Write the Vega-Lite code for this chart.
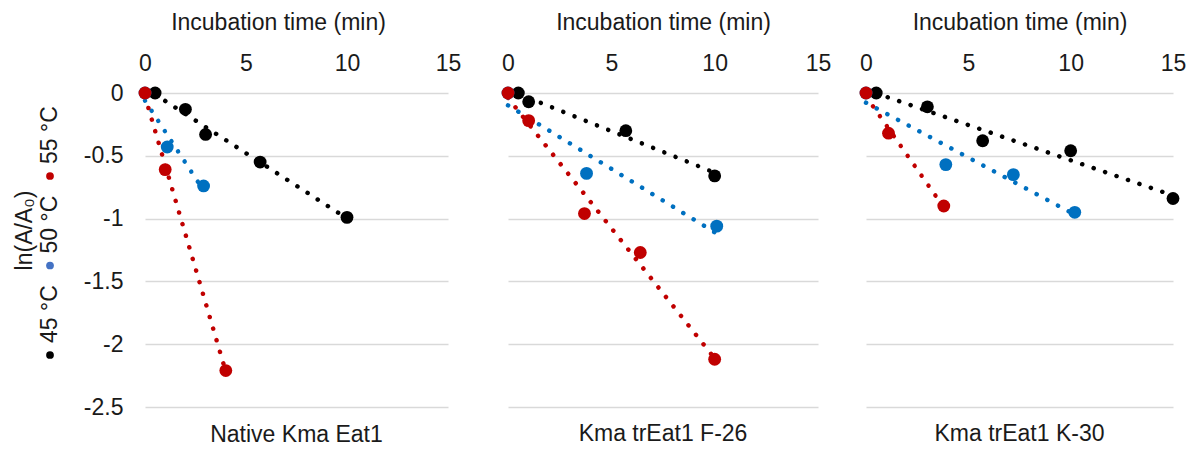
{
  "$schema": "https://vega.github.io/schema/vega-lite/v6.json",
  "background": "white",
  "padding": {"left": 13, "top": 11, "right": 10, "bottom": 2},
  "bounds": "flush",
  "config": {
    "font": "Liberation Sans",
    "view": {"stroke": null},
    "axis": {"labelFont": "Liberation Sans", "titleFont": "Liberation Sans", "labelFontSize": 23, "titleFontSize": 23, "labelColor": "#1a1a1a", "titleColor": "#1a1a1a", "titleFontWeight": "normal", "labelFlush": false, "labelOverlap": false},
    "title": {"font": "Liberation Sans", "fontSize": 23, "fontWeight": "normal", "color": "#1a1a1a"}
  },
  "datasets": {
    "obs": [
      {"panel": "Native Kma Eat1", "temp": "45 °C", "time": 0.5, "lnA": 0},
      {"panel": "Native Kma Eat1", "temp": "45 °C", "time": 2, "lnA": -0.13},
      {"panel": "Native Kma Eat1", "temp": "45 °C", "time": 3, "lnA": -0.33},
      {"panel": "Native Kma Eat1", "temp": "45 °C", "time": 5.7, "lnA": -0.55},
      {"panel": "Native Kma Eat1", "temp": "45 °C", "time": 10, "lnA": -0.99},
      {"panel": "Native Kma Eat1", "temp": "50 °C", "time": 0, "lnA": 0},
      {"panel": "Native Kma Eat1", "temp": "50 °C", "time": 1.1, "lnA": -0.43},
      {"panel": "Native Kma Eat1", "temp": "50 °C", "time": 2.9, "lnA": -0.74},
      {"panel": "Native Kma Eat1", "temp": "55 °C", "time": 0, "lnA": 0},
      {"panel": "Native Kma Eat1", "temp": "55 °C", "time": 1, "lnA": -0.61},
      {"panel": "Native Kma Eat1", "temp": "55 °C", "time": 4, "lnA": -2.21},
      {"panel": "Kma trEat1 F-26", "temp": "45 °C", "time": 0.5, "lnA": 0},
      {"panel": "Kma trEat1 F-26", "temp": "45 °C", "time": 1, "lnA": -0.07},
      {"panel": "Kma trEat1 F-26", "temp": "45 °C", "time": 5.7, "lnA": -0.3},
      {"panel": "Kma trEat1 F-26", "temp": "45 °C", "time": 10, "lnA": -0.66},
      {"panel": "Kma trEat1 F-26", "temp": "50 °C", "time": 0, "lnA": 0},
      {"panel": "Kma trEat1 F-26", "temp": "50 °C", "time": 3.8, "lnA": -0.64},
      {"panel": "Kma trEat1 F-26", "temp": "50 °C", "time": 10.1, "lnA": -1.06},
      {"panel": "Kma trEat1 F-26", "temp": "55 °C", "time": 0, "lnA": 0},
      {"panel": "Kma trEat1 F-26", "temp": "55 °C", "time": 1, "lnA": -0.22},
      {"panel": "Kma trEat1 F-26", "temp": "55 °C", "time": 3.7, "lnA": -0.96},
      {"panel": "Kma trEat1 F-26", "temp": "55 °C", "time": 6.4, "lnA": -1.27},
      {"panel": "Kma trEat1 F-26", "temp": "55 °C", "time": 10, "lnA": -2.12},
      {"panel": "Kma trEat1 K-30", "temp": "45 °C", "time": 0.5, "lnA": 0},
      {"panel": "Kma trEat1 K-30", "temp": "45 °C", "time": 3, "lnA": -0.11},
      {"panel": "Kma trEat1 K-30", "temp": "45 °C", "time": 5.7, "lnA": -0.38},
      {"panel": "Kma trEat1 K-30", "temp": "45 °C", "time": 10, "lnA": -0.46},
      {"panel": "Kma trEat1 K-30", "temp": "45 °C", "time": 15, "lnA": -0.84},
      {"panel": "Kma trEat1 K-30", "temp": "50 °C", "time": 0, "lnA": 0},
      {"panel": "Kma trEat1 K-30", "temp": "50 °C", "time": 3.9, "lnA": -0.57},
      {"panel": "Kma trEat1 K-30", "temp": "50 °C", "time": 7.2, "lnA": -0.65},
      {"panel": "Kma trEat1 K-30", "temp": "50 °C", "time": 10.2, "lnA": -0.95},
      {"panel": "Kma trEat1 K-30", "temp": "55 °C", "time": 0, "lnA": 0},
      {"panel": "Kma trEat1 K-30", "temp": "55 °C", "time": 1.1, "lnA": -0.32},
      {"panel": "Kma trEat1 K-30", "temp": "55 °C", "time": 3.8, "lnA": -0.9}
    ],
    "leg": [
      {"item": "45 °C"},
      {"item": "50 °C"},
      {"item": "55 °C"}
    ]
  },
  "resolve": {"scale": {"color": "independent"}},
  "spacing": 85,
  "hconcat": [
    {
      "width": 20,
      "height": 314,
      "data": {"name": "leg"},
      "encoding": {
        "y": {"field": "item", "type": "nominal",
          "scale": {"type": "point", "domain": ["55 °C", "50 °C", "45 °C"], "range": [83, 262], "padding": 0},
          "axis": {"title": "ln(A/A₀)", "labels": false, "ticks": false, "domain": false, "grid": false, "titlePadding": 4, "titleY": 137}},
        "color": {"field": "item", "type": "nominal",
          "scale": {"domain": ["45 °C", "50 °C", "55 °C"], "range": ["#000000", "#4472C4", "#C00000"]},
          "legend": null}
      },
      "layer": [
        {"mark": {"type": "point", "filled": true, "size": 60, "opacity": 1}},
        {"mark": {"type": "text", "angle": 270, "align": "left", "baseline": "middle", "dx": 12, "fontSize": 23, "font": "Liberation Sans", "color": "#1a1a1a"},
         "encoding": {"text": {"field": "item"}, "color": {"value": "#1a1a1a"}}}
      ]
    },
    {
      "bounds": "flush",
      "spacing": 60,
      "hconcat": [
        {
          "width": 303,
          "height": 314,
          "data": {"name": "obs"},
          "title": {"text": "Native Kma Eat1", "orient": "bottom", "offset": 5},
          "transform": [{"filter": "datum.panel === 'Native Kma Eat1'"}],
          "encoding": {
            "x": {"field": "time", "type": "quantitative", "scale": {"domain": [0, 15], "nice": false},
              "axis": {"orient": "top", "values": [0, 5, 10, 15], "title": "Incubation time (min)", "ticks": false, "domain": false, "grid": false, "labelPadding": 18, "titlePadding": 18, "titleX": 133}},
            "y": {"field": "lnA", "type": "quantitative", "scale": {"domain": [-2.5, 0], "nice": false, "zero": false},
              "axis": {"values": [0, -0.5, -1, -1.5, -2, -2.5], "title": null, "ticks": false, "domain": false, "grid": true, "gridColor": "#d9d9d9", "gridWidth": 1.5, "labelPadding": 22, "labelExpr": "replace(format(datum.value, ''), '−', '-')"}},
            "color": {"field": "temp", "type": "nominal", "scale": {"domain": ["45 °C", "50 °C", "55 °C"], "range": ["#000000", "#0070C0", "#C00000"]}, "legend": null}
          },
          "layer": [
            {"transform": [{"regression": "lnA", "on": "time", "groupby": ["temp"]}],
             "mark": {"type": "line", "strokeWidth": 4.5, "strokeCap": "round", "strokeDash": [0.1, 12]}},
            {"mark": {"type": "point", "filled": true, "size": 165, "opacity": 1}}
          ]
        },
        {
          "bounds": "flush",
          "spacing": 48,
          "hconcat": [
            {
              "width": 310,
              "height": 314,
              "data": {"name": "obs"},
              "title": {"text": "Kma trEat1 F-26", "orient": "bottom", "offset": 16},
              "transform": [{"filter": "datum.panel === 'Kma trEat1 F-26'"}],
              "encoding": {
                "x": {"field": "time", "type": "quantitative", "scale": {"domain": [0, 15], "nice": false},
                  "axis": {"orient": "top", "values": [0, 5, 10, 15], "title": "Incubation time (min)", "ticks": false, "domain": false, "grid": false, "labelPadding": 18, "titlePadding": 18}},
                "y": {"field": "lnA", "type": "quantitative", "scale": {"domain": [-2.5, 0], "nice": false, "zero": false},
                  "axis": {"values": [0, -0.5, -1, -1.5, -2, -2.5], "title": null, "labels": false, "ticks": false, "domain": false, "grid": true, "gridColor": "#d9d9d9", "gridWidth": 1.5}},
                "color": {"field": "temp", "type": "nominal", "scale": {"domain": ["45 °C", "50 °C", "55 °C"], "range": ["#000000", "#0070C0", "#C00000"]}, "legend": null}
              },
              "layer": [
                {"transform": [{"regression": "lnA", "on": "time", "groupby": ["temp"]}],
                 "mark": {"type": "line", "strokeWidth": 4.5, "strokeCap": "round", "strokeDash": [0.1, 12]}},
                {"mark": {"type": "point", "filled": true, "size": 165, "opacity": 1}}
              ]
            },
            {
              "width": 307,
              "height": 314,
              "data": {"name": "obs"},
              "title": {"text": "Kma trEat1 K-30", "orient": "bottom", "offset": 16},
              "transform": [{"filter": "datum.panel === 'Kma trEat1 K-30'"}],
              "encoding": {
                "x": {"field": "time", "type": "quantitative", "scale": {"domain": [0, 15], "nice": false},
                  "axis": {"orient": "top", "values": [0, 5, 10, 15], "title": "Incubation time (min)", "ticks": false, "domain": false, "grid": false, "labelPadding": 18, "titlePadding": 18}},
                "y": {"field": "lnA", "type": "quantitative", "scale": {"domain": [-2.5, 0], "nice": false, "zero": false},
                  "axis": {"values": [0, -0.5, -1, -1.5, -2, -2.5], "title": null, "labels": false, "ticks": false, "domain": false, "grid": true, "gridColor": "#d9d9d9", "gridWidth": 1.5}},
                "color": {"field": "temp", "type": "nominal", "scale": {"domain": ["45 °C", "50 °C", "55 °C"], "range": ["#000000", "#0070C0", "#C00000"]}, "legend": null}
              },
              "layer": [
                {"transform": [{"regression": "lnA", "on": "time", "groupby": ["temp"]}],
                 "mark": {"type": "line", "strokeWidth": 4.5, "strokeCap": "round", "strokeDash": [0.1, 12]}},
                {"mark": {"type": "point", "filled": true, "size": 165, "opacity": 1}}
              ]
            }
          ]
        }
      ]
    }
  ]
}
